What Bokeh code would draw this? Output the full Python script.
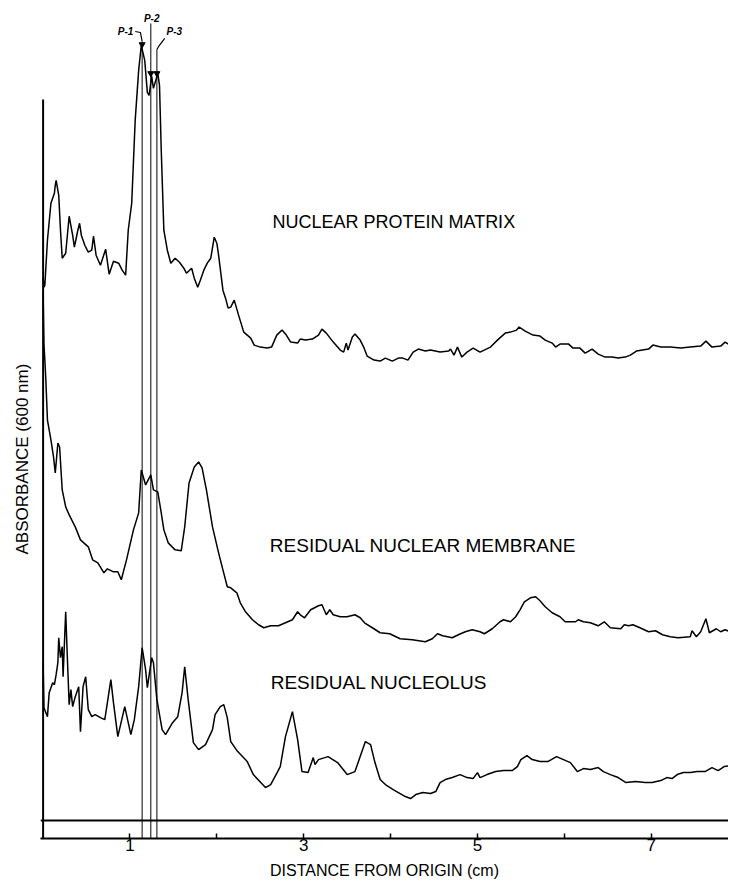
from bokeh.plotting import figure
from bokeh.models import Range1d, FixedTicker, CustomJSTickFormatter, Span, Title
from bokeh.core.properties import value
from bokeh.embed import file_html
from bokeh.resources import INLINE

# ---------------- data (distance in cm, absorbance in arbitrary units) ----------------
matrix_x = [0.00, 0.01, 0.02, 0.05, 0.09, 0.13, 0.14, 0.15, 0.18, 0.20,
            0.22, 0.26, 0.30, 0.34, 0.36, 0.40, 0.42, 0.44, 0.48, 0.52,
            0.56, 0.58, 0.61, 0.66, 0.72, 0.76, 0.81, 0.87, 0.91, 0.95,
            0.98, 1.02, 1.06, 1.10, 1.13, 1.17, 1.20, 1.22, 1.25, 1.27,
            1.29, 1.32, 1.34, 1.36, 1.39, 1.43, 1.47, 1.52, 1.57, 1.62,
            1.65, 1.71, 1.74, 1.78, 1.81, 1.85, 1.89, 1.93, 1.97, 2.00,
            2.02, 2.07, 2.10, 2.13, 2.16, 2.20, 2.25, 2.31, 2.39, 2.43,
            2.50, 2.58, 2.63, 2.69, 2.75, 2.80, 2.85, 2.93, 2.96, 3.02,
            3.10, 3.17, 3.21, 3.26, 3.34, 3.42, 3.46, 3.49, 3.51, 3.56,
            3.59, 3.65, 3.69, 3.73, 3.81, 3.88, 3.94, 4.02, 4.09, 4.14,
            4.20, 4.26, 4.32, 4.40, 4.46, 4.57, 4.67, 4.69, 4.73, 4.77,
            4.82, 4.88, 4.95, 5.03, 5.15, 5.23, 5.32, 5.38, 5.45, 5.48,
            5.55, 5.64, 5.72, 5.78, 5.86, 5.90, 5.95, 6.05, 6.10, 6.18,
            6.24, 6.32, 6.39, 6.47, 6.55, 6.62, 6.70, 6.76, 6.83, 6.90,
            6.97, 7.02, 7.11, 7.22, 7.34, 7.45, 7.57, 7.63, 7.70, 7.80,
            7.85, 7.91]
matrix_y = [5.44, 5.34, 5.36, 5.81, 6.18, 6.28, 6.36, 6.41, 6.26, 5.91,
            5.63, 5.68, 6.05, 5.86, 5.74, 5.91, 5.98, 5.86, 5.76, 5.69,
            5.71, 5.85, 5.66, 5.56, 5.72, 5.47, 5.60, 5.58, 5.51, 5.46,
            5.91, 6.18, 7.01, 7.51, 7.76, 7.61, 7.29, 7.26, 7.45, 7.33,
            7.39, 7.48, 7.36, 6.71, 5.91, 5.71, 5.58, 5.63, 5.59, 5.53,
            5.48, 5.53, 5.43, 5.34, 5.41, 5.51, 5.58, 5.63, 5.84, 5.78,
            5.66, 5.31, 5.23, 5.13, 5.14, 5.21, 5.06, 4.89, 4.83, 4.76,
            4.74, 4.73, 4.74, 4.86, 4.91, 4.86, 4.79, 4.78, 4.82, 4.81,
            4.82, 4.86, 4.92, 4.88, 4.79, 4.71, 4.69, 4.78, 4.71, 4.84,
            4.87, 4.81, 4.74, 4.65, 4.61, 4.60, 4.63, 4.60, 4.63, 4.63,
            4.61, 4.69, 4.72, 4.70, 4.71, 4.69, 4.70, 4.72, 4.66, 4.74,
            4.64, 4.69, 4.73, 4.69, 4.74, 4.81, 4.88, 4.89, 4.91, 4.94,
            4.90, 4.86, 4.85, 4.81, 4.78, 4.74, 4.77, 4.77, 4.73, 4.73,
            4.68, 4.72, 4.67, 4.64, 4.64, 4.63, 4.64, 4.66, 4.70, 4.71,
            4.72, 4.76, 4.74, 4.74, 4.73, 4.74, 4.75, 4.80, 4.74, 4.75,
            4.79, 4.76]

membrane_x = [0.00, 0.01, 0.02, 0.03, 0.05, 0.09, 0.12, 0.14, 0.17, 0.19,
              0.22, 0.26, 0.30, 0.37, 0.43, 0.52, 0.57, 0.63, 0.70, 0.74,
              0.81, 0.86, 0.90, 0.96, 1.04, 1.10, 1.13, 1.18, 1.24, 1.27,
              1.32, 1.36, 1.39, 1.44, 1.52, 1.59, 1.63, 1.68, 1.74, 1.79,
              1.83, 1.88, 1.95, 2.02, 2.07, 2.12, 2.16, 2.23, 2.27, 2.33,
              2.41, 2.48, 2.54, 2.62, 2.71, 2.79, 2.87, 2.93, 2.96, 3.01,
              3.08, 3.17, 3.21, 3.26, 3.30, 3.34, 3.42, 3.50, 3.59, 3.65,
              3.70, 3.79, 3.88, 3.99, 4.11, 4.25, 4.40, 4.48, 4.54, 4.60,
              4.71, 4.78, 4.86, 4.94, 5.03, 5.08, 5.17, 5.26, 5.30, 5.38,
              5.44, 5.49, 5.54, 5.61, 5.67, 5.72, 5.78, 5.86, 5.95, 6.01,
              6.13, 6.16, 6.22, 6.30, 6.39, 6.46, 6.53, 6.65, 6.69, 6.74,
              6.79, 6.87, 6.97, 7.05, 7.13, 7.22, 7.31, 7.45, 7.47, 7.52,
              7.57, 7.63, 7.67, 7.73, 7.75, 7.80, 7.85, 7.91]
membrane_y = [5.29, 4.76, 4.61, 4.44, 4.01, 3.81, 3.64, 3.48, 3.78, 3.74,
              3.31, 3.14, 3.06, 2.94, 2.81, 2.74, 2.61, 2.58, 2.48, 2.52,
              2.49, 2.49, 2.41, 2.61, 2.91, 3.08, 3.51, 3.36, 3.46, 3.31,
              3.29, 3.08, 2.91, 2.78, 2.71, 2.70, 2.94, 3.38, 3.54, 3.59,
              3.53, 3.31, 2.94, 2.68, 2.51, 2.34, 2.33, 2.28, 2.18, 2.09,
              2.01, 1.96, 1.93, 1.95, 1.95, 1.98, 2.01, 2.09, 2.06, 2.03,
              2.11, 2.15, 2.16, 2.06, 2.11, 2.06, 2.04, 2.04, 2.06, 2.03,
              1.98, 1.93, 1.88, 1.87, 1.82, 1.81, 1.79, 1.82, 1.87, 1.85,
              1.83, 1.86, 1.89, 1.91, 1.89, 1.87, 1.92, 1.99, 2.01, 1.99,
              2.04, 2.11, 2.19, 2.23, 2.24, 2.20, 2.14, 2.08, 2.04, 1.99,
              1.99, 2.01, 1.99, 1.98, 1.95, 1.99, 1.93, 1.92, 1.96, 1.95,
              1.96, 1.93, 1.89, 1.90, 1.86, 1.84, 1.83, 1.84, 1.90, 1.84,
              1.89, 2.02, 1.88, 1.91, 1.92, 1.89, 1.91, 1.89]

nucleolus_x = [0.00, 0.01, 0.05, 0.07, 0.11, 0.13, 0.15, 0.17, 0.18, 0.20,
               0.22, 0.23, 0.26, 0.28, 0.30, 0.32, 0.34, 0.37, 0.41, 0.43,
               0.46, 0.49, 0.52, 0.56, 0.60, 0.66, 0.71, 0.74, 0.78, 0.81,
               0.86, 0.94, 1.01, 1.05, 1.10, 1.14, 1.18, 1.20, 1.25, 1.27,
               1.31, 1.37, 1.41, 1.49, 1.55, 1.60, 1.63, 1.67, 1.73, 1.79,
               1.87, 1.95, 1.98, 2.04, 2.08, 2.12, 2.16, 2.24, 2.35, 2.42,
               2.56, 2.62, 2.70, 2.73, 2.79, 2.87, 2.93, 2.98, 3.05, 3.11,
               3.13, 3.17, 3.28, 3.39, 3.50, 3.59, 3.71, 3.77, 3.82, 3.88,
               3.94, 4.03, 4.11, 4.17, 4.23, 4.29, 4.37, 4.46, 4.52, 4.57,
               4.63, 4.71, 4.80, 4.88, 4.95, 5.00, 5.03, 5.11, 5.21, 5.30,
               5.40, 5.46, 5.50, 5.57, 5.63, 5.72, 5.81, 5.91, 5.99, 6.07,
               6.15, 6.22, 6.30, 6.39, 6.45, 6.53, 6.62, 6.71, 6.82, 6.93,
               7.01, 7.11, 7.18, 7.24, 7.30, 7.37, 7.45, 7.53, 7.62, 7.70,
               7.77, 7.84, 7.91]
nucleolus_y = [1.59, 1.13, 1.04, 1.28, 1.38, 1.36, 1.46, 1.58, 1.83, 1.63,
               1.74, 1.44, 2.09, 1.61, 1.16, 1.31, 1.14, 1.24, 1.34, 0.89,
               1.34, 1.44, 1.11, 1.04, 1.06, 1.03, 1.01, 1.18, 1.41, 1.18,
               0.84, 1.14, 0.86, 1.01, 1.34, 1.73, 1.51, 1.33, 1.63, 1.58,
               1.21, 0.91, 0.86, 0.98, 1.04, 1.28, 1.54, 1.21, 0.78, 0.71,
               0.76, 0.91, 1.06, 1.14, 1.16, 1.03, 0.79, 0.69, 0.59, 0.46,
               0.33, 0.36, 0.49, 0.54, 0.84, 1.09, 0.81, 0.49, 0.48, 0.63,
               0.56, 0.61, 0.64, 0.58, 0.46, 0.49, 0.79, 0.76, 0.58, 0.41,
               0.36, 0.31, 0.27, 0.24, 0.22, 0.26, 0.28, 0.27, 0.29, 0.38,
               0.41, 0.43, 0.46, 0.43, 0.42, 0.48, 0.43, 0.46, 0.49, 0.50,
               0.50, 0.54, 0.61, 0.65, 0.61, 0.59, 0.59, 0.64, 0.61, 0.58,
               0.49, 0.52, 0.51, 0.53, 0.49, 0.46, 0.43, 0.38, 0.39, 0.38,
               0.38, 0.40, 0.43, 0.42, 0.46, 0.48, 0.48, 0.49, 0.49, 0.53,
               0.50, 0.54, 0.55]

trace_names = ["NUCLEAR PROTEIN MATRIX", "RESIDUAL NUCLEAR MEMBRANE", "RESIDUAL NUCLEOLUS"]
trace_label_x = [2.64, 2.61, 2.62]
trace_label_y = [5.99, 2.75, 1.38]
trace_label_size = ["18px", "19px", "19px"]

band_names = ["P-1", "P-2", "P-3"]
band_pos = [1.14, 1.24, 1.31]          # cm
band_line_top = [7.80, 7.98, 7.72]
band_arrow_y = [7.77, 7.48, 7.48]
band_label_x = [0.95, 1.25, 1.51]
band_label_y = [7.90, 8.03, 7.90]

tick_values = [1, 2, 3, 4, 5, 6, 7]
tick_labels = ["1", "", "3", "", "5", "", "7"]

X_MIN, X_MAX = -0.03, 7.89
Y_MIN, Y_MAX = -0.18, 8.12
Y_AXIS_TOP = 7.22
FONT = "Liberation Sans"

p = figure(width=728, height=885, x_range=Range1d(X_MIN, X_MAX), y_range=Range1d(Y_MIN, Y_MAX),
           output_backend="svg", toolbar_location=None,
           min_border_left=40, min_border_right=0, min_border_top=9, min_border_bottom=47)
p.outline_line_color = None
p.grid.visible = False
p.yaxis.visible = False
p.background_fill_color = "white"

xa = p.xaxis[0]
xa.ticker = FixedTicker(ticks=tick_values)
xa.formatter = CustomJSTickFormatter(args=dict(vals=tick_values, labs=tick_labels),
                                     code="const i = vals.indexOf(tick); return i >= 0 ? labs[i] : '';")
xa.axis_line_width = 2
xa.axis_line_color = "black"
xa.major_tick_in = 5
xa.major_tick_out = 0
xa.major_tick_line_width = 1.5
xa.major_tick_line_color = "black"
xa.minor_tick_in = 0
xa.minor_tick_out = 0
xa.major_label_text_font = FONT
xa.major_label_text_font_size = "17px"
xa.major_label_text_color = "black"
xa.major_label_standoff = 0
xa.axis_label = "DISTANCE FROM ORIGIN (cm)"
xa.axis_label_text_font = FONT
xa.axis_label_text_font_size = "16px"
xa.axis_label_text_font_style = "normal"
xa.axis_label_text_color = "black"
xa.axis_label_standoff = 8

# y axis title (rotated, on the left); offset counts up from the frame bottom
p.add_layout(Title(text="ABSORBANCE (600 nm)", align="left", offset=284, standoff=18,
                   text_font=FONT, text_font_size="17px", text_font_style="normal",
                   text_color="black"), "left")

# baseline and left axis line
p.add_layout(Span(location=0, dimension="width", line_color="black", line_width=2))
p.line([0, 0], [Y_MIN, Y_AXIS_TOP], line_color="black", line_width=2)

# traces
for xs, ys in [(matrix_x, matrix_y), (membrane_x, membrane_y), (nucleolus_x, nucleolus_y)]:
    p.line(xs, ys, line_color="black", line_width=1.5)

# band marker lines
p.segment(x0=band_pos, y0=[Y_MIN] * 3, x1=band_pos, y1=band_line_top, line_color="black", line_width=1)
p.scatter(x=band_pos, y=band_arrow_y, marker="inverted_triangle", size=6, color="black")
p.line([band_label_x[0] + 0.11, band_pos[0] - 0.02, band_pos[0]],
       [band_label_y[0], band_label_y[0] - 0.01, band_line_top[0]], line_color="black", line_width=1.2)
p.line([band_label_x[2] - 0.11, band_pos[2] + 0.02, band_pos[2]],
       [band_label_y[2] - 0.07, band_line_top[2] + 0.03, band_line_top[2]], line_color="black", line_width=1.2)
p.text(x=band_label_x, y=band_label_y, text=band_names, text_font=value(FONT),
       text_font_size="10px", text_font_style="bold italic", text_align="center",
       text_baseline="middle", text_color="black")

# trace labels
p.text(x=trace_label_x, y=trace_label_y, text=trace_names, text_font=value(FONT),
       text_font_size=trace_label_size, text_align="left", text_baseline="alphabetic",
       text_color="black")

open("out.html", "w").write(file_html(p, INLINE))
